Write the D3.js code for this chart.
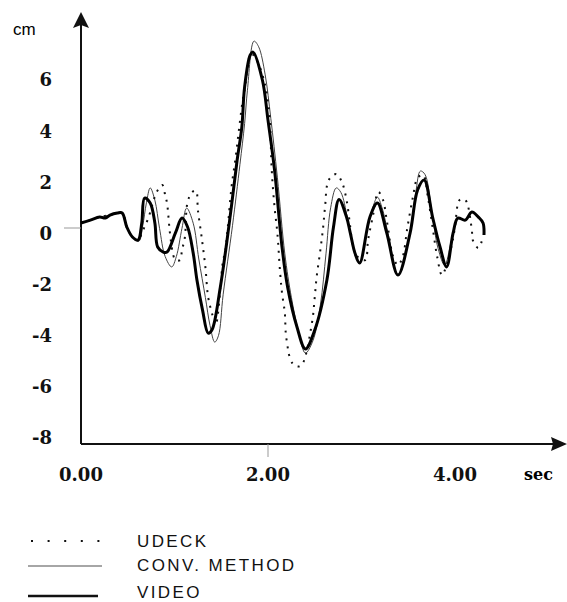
<!DOCTYPE html>
<html>
<head>
<meta charset="utf-8">
<script src="https://d3js.org/d3.v7.min.js"></script>
<style>
  body { margin: 0; background: #fff; }
  .tick-lbl { font-family: "DejaVu Serif", serif; font-weight: bold; font-size: 18px; fill: #111; }
  .leg { font-family: "Liberation Sans", Arial, sans-serif; font-size: 17px; letter-spacing: 2.4px; fill: #111; }
</style>
</head>
<body>
<svg width="567" height="602"></svg>
<script>
// time in sec, displacement in cm
const videoTime = [0.00, 0.10, 0.20, 0.26, 0.31, 0.39, 0.44, 0.49, 0.55, 0.61, 0.65, 0.68, 0.74, 0.79, 0.82, 0.88, 0.92,
  1.01, 1.08, 1.14, 1.20, 1.24, 1.30, 1.36, 1.40, 1.49, 1.59, 1.67, 1.72, 1.75, 1.81, 1.84, 1.94, 2.00, 2.07, 2.15,
  2.21, 2.31, 2.40, 2.50, 2.63, 2.70, 2.76, 2.84, 2.88, 2.93, 2.98, 3.09, 3.17, 3.27, 3.39, 3.52, 3.60, 3.67, 3.76,
  3.84, 3.91, 3.98, 4.03, 4.11, 4.18, 4.25, 4.30, 4.31];
const videoCm = [0.41, 0.52, 0.64, 0.60, 0.72, 0.80, 0.80, 0.25, -0.14, -0.26, 0.41, 1.38, 1.19, 0.41, -0.53, -0.73, -0.73,
  0.02, 0.60, 0.25, -0.77, -1.82, -3.0, -3.9, -3.78, -2.10, 0.52, 2.87, 4.16, 5.73, 6.98, 7.09, 6.0, 4.43, 2.48, -0.53,
  -2.10, -3.66, -4.52, -3.78, -1.82, 0.24, 1.33, 0.64, 0.02, -0.77, -1.16, 0.64, 1.19, 0.02, -1.63, 0.02, 1.70, 2.09, 0.64,
  -0.53, -1.31, 0.02, 0.60, 0.52, 0.84, 0.64, 0.41, -0.06];

const convTime = [0.00, 0.10, 0.20, 0.31, 0.44, 0.49, 0.55, 0.62, 0.66, 0.70, 0.74, 0.79, 0.84, 0.90, 0.97, 1.02, 1.08,
  1.13, 1.20, 1.26, 1.33, 1.38, 1.43, 1.47, 1.52, 1.62, 1.70, 1.75, 1.78, 1.85, 1.90, 1.97, 2.03, 2.10, 2.18, 2.25,
  2.33, 2.40, 2.48, 2.56, 2.62, 2.67, 2.73, 2.78, 2.85, 2.92, 2.98, 3.06, 3.12, 3.17, 3.22, 3.29, 3.39, 3.50, 3.58,
  3.63, 3.68, 3.75, 3.82, 3.89, 3.96, 4.03, 4.11, 4.18, 4.25, 4.30, 4.31];
const convCm = [0.41, 0.52, 0.64, 0.72, 0.80, 0.25, -0.14, -0.30, 0.30, 1.20, 1.78, 1.30, 0.20, -0.90, -1.31, -0.90, 0.20,
  0.99, 0.40, -1.00, -2.50, -3.60, -4.25, -4.00, -2.40, 0.30, 2.70, 4.30, 5.60, 7.52, 7.30, 6.20, 4.50, 2.20, -0.80, -2.50,
  -3.90, -4.68, -4.20, -2.80, -0.80, 1.00, 1.78, 1.60, 0.60, -0.70, -1.16, 0.10, 1.00, 1.42, 1.00, -0.10, -1.63, -0.30, 1.60,
  2.44, 2.30, 0.90, -0.60, -1.24, -0.30, 0.60, 0.52, 0.84, 0.64, 0.41, -0.06];

const udeckTime = [0.00, 0.10, 0.20, 0.31, 0.44, 0.49, 0.55, 0.61, 0.66, 0.72, 0.81, 0.87, 0.90, 0.92, 0.94, 0.95, 1.01,
  1.06, 1.08, 1.11, 1.14, 1.19, 1.23, 1.25, 1.29, 1.33, 1.36, 1.40, 1.44, 1.52, 1.54, 1.57, 1.61, 1.65, 1.73, 1.75,
  1.82, 1.89, 1.97, 2.00, 2.02, 2.04, 2.07, 2.10, 2.13, 2.15, 2.18, 2.19, 2.21, 2.22, 2.26, 2.31, 2.36, 2.47, 2.50,
  2.52, 2.56, 2.59, 2.61, 2.65, 2.73, 2.79, 2.84, 2.88, 2.91, 2.96, 3.04, 3.07, 3.12, 3.18, 3.23, 3.27, 3.34, 3.39,
  3.44, 3.49, 3.55, 3.60, 3.66, 3.71, 3.76, 3.81, 3.86, 3.91, 3.97, 4.00, 4.05, 4.11, 4.18, 4.19, 4.25, 4.29];
const udeckCm = [0.41, 0.52, 0.64, 0.72, 0.80, 0.25, -0.14, -0.26, 0.10, 0.60, 1.62, 1.89, 1.50, 1.19, 0.45, 0.05, -1.04,
  -1.04, -0.65, -0.18, 1.23, 1.62, 1.66, 0.92, -0.14, -1.31, -2.49, -3.11, -3.58, -1.04, -0.77, 0.25, 1.82, 2.87, 5.22, 5.60,
  7.03, 6.70, 5.80, 5.10, 4.43, 2.48, 1.03, 0.02, -1.55, -2.33, -3.11, -3.90, -4.44, -4.68, -5.07, -5.20, -5.15, -3.50, -2.49,
  -1.71, -0.65, 0.25, 1.03, 2.09, 2.32, 2.01, 1.31, 0.25, -0.53, -0.92, -1.04, -0.26, 0.64, 1.62, 1.31, 0.52, -0.92, -1.24,
  -0.92, 0.21, 1.42, 2.17, 2.28, 1.42, 0.25, -0.92, -1.63, -1.24, -0.38, 0.25, 1.31, 1.31, 0.13, -0.26, -0.57, -0.26];

const yTicks = [6, 4, 2, 0, -2, -4, -6, -8];
const xTicks = [0, 2, 4];
const legendNames = ["UDECK", "CONV. METHOD", "VIDEO"];

const svg = d3.select("svg");
const x = d3.scaleLinear().domain([0, 4]).range([81, 455]);
const y = d3.scaleLinear().domain([-8, 6]).range([438, 80]);
const axisY0 = 444; // where the time axis sits

const line = d3.line().x(d => x(d[0])).y(d => y(d[1])).curve(d3.curveCatmullRom.alpha(0.5));
const zip = (ts, vs) => ts.map((t, i) => [t, vs[i]]);

// axes
svg.append("line").attr("x1", x(0)).attr("x2", 555).attr("y1", axisY0).attr("y2", axisY0)
  .attr("stroke", "#111").attr("stroke-width", 2);
svg.append("path").attr("d", "M567,444 L551,437 L553,444 L551,451 Z").attr("fill", "#111");
svg.append("line").attr("x1", x(0)).attr("x2", x(0)).attr("y1", axisY0).attr("y2", 24)
  .attr("stroke", "#111").attr("stroke-width", 2);
svg.append("path").attr("d", "M81,12 L73,28 L81,25 L89,28 Z").attr("fill", "#111");

// faint tick marks
svg.append("line").attr("x1", 64).attr("x2", x(0)).attr("y1", 228).attr("y2", 228)
  .attr("stroke", "#999").attr("stroke-width", 1);
svg.append("line").attr("x1", x(2)).attr("x2", x(2)).attr("y1", axisY0).attr("y2", 457)
  .attr("stroke", "#999").attr("stroke-width", 1);

svg.selectAll(".ylab").data(yTicks).enter().append("text")
  .attr("class", "tick-lbl")
  .attr("x", 52).attr("y", d => y(d)).attr("dy", "0.36em")
  .attr("text-anchor", "end").text(d => d);

svg.selectAll(".xlab").data(xTicks).enter().append("text")
  .attr("class", "tick-lbl")
  .attr("x", d => x(d)).attr("y", 481)
  .attr("text-anchor", "middle").text(d => d3.format(".2f")(d));

svg.append("text").attr("x", 13).attr("y", 35)
  .style("font-family", "Liberation Sans, Arial, sans-serif").style("font-size", "17px")
  .text("cm");
svg.append("text").attr("x", 524).attr("y", 480)
  .style("font-family", "DejaVu Serif, serif").style("font-weight", "bold").style("font-size", "16px")
  .text("sec");

// series
svg.append("path").datum(zip(convTime, convCm)).attr("d", line)
  .attr("fill", "none").attr("stroke", "#444").attr("stroke-width", 1);
svg.append("path").datum(zip(udeckTime, udeckCm)).attr("d", line)
  .attr("fill", "none").attr("stroke", "#111").attr("stroke-width", 2)
  .attr("stroke-dasharray", "2,6");
svg.append("path").datum(zip(videoTime, videoCm)).attr("d", line)
  .attr("fill", "none").attr("stroke", "#000").attr("stroke-width", 3);

// legend
const legY = [541, 566, 596];
svg.append("line").attr("x1", 31).attr("x2", 101).attr("y1", legY[0]).attr("y2", legY[0])
  .attr("stroke", "#111").attr("stroke-width", 2).attr("stroke-dasharray", "2,14.6");
svg.append("line").attr("x1", 28).attr("x2", 102).attr("y1", legY[1]).attr("y2", legY[1])
  .attr("stroke", "#888").attr("stroke-width", 1.5);
svg.append("line").attr("x1", 28).attr("x2", 98).attr("y1", legY[2]).attr("y2", legY[2])
  .attr("stroke", "#111").attr("stroke-width", 2.5);

svg.selectAll(".legtxt").data(legendNames).enter().append("text")
  .attr("class", "leg")
  .attr("x", 137).attr("y", (d, i) => [547, 571, 598][i])
  .text(d => d);
</script>
</body>
</html>
